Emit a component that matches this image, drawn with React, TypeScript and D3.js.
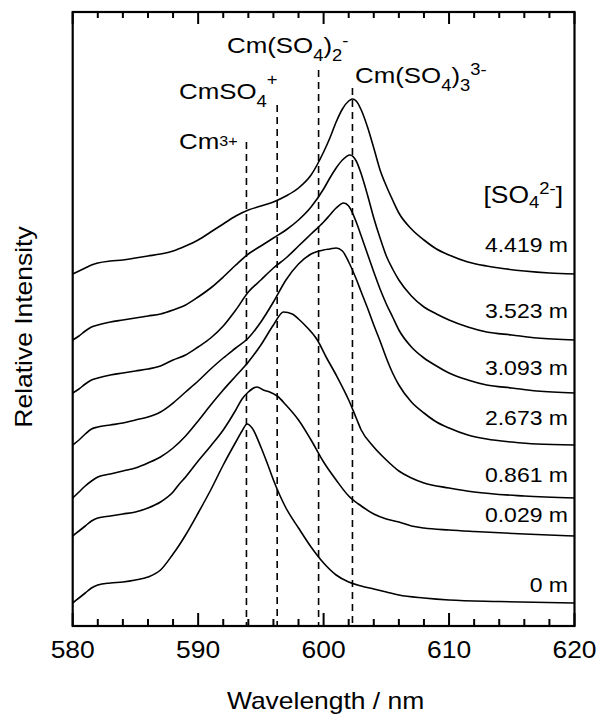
import React from "react";
import * as d3 from "d3";

// ---- data ----
const concentrations = ["4.419 m", "3.523 m", "3.093 m", "2.673 m", "0.861 m", "0.029 m", "0 m"];
// vertical offsets of the stacked spectra (relative intensity units)
const offsets = [352, 286, 233, 181, 128, 90, 23];

const s4419: [number, number][] = [[580,0],[580.5,3],[581,6],[581.5,9],[582,11],[583,13],[584,14],[585,16],[586,18],[587,20],[588,23],[589,28],[590,34],[591,42],[592,50],[593,58],[594,64],[595,68],[596,72],[597,78],[598,86],[599,99],[600,122],[600.5,136],[601,152],[601.5,165],[602,173],[602.3,175],[602.6,173],[603,164],[603.5,147],[604,126],[604.5,104],[605,88],[605.5,74],[606,61],[607,45],[608,34],[609,25],[610,19],[611.5,12],[613,8],[614,6],[616,3],[618,1],[620,0]];
const s3523: [number, number][] = [[580,0],[580.5,4],[581,9],[581.5,13],[582,15],[583,18],[584,20],[585,22],[586,24],[587,26],[588,30],[589,35],[590,43],[591,52],[592,63],[593,75],[594,86],[595,94],[596,102],[597,110],[598,120],[599,133],[600,151],[600.5,162],[601,172],[601.5,180],[602.1,185],[602.6,179],[603,166],[603.5,145],[604,122],[604.5,102],[605,84],[605.5,71],[606,60],[607,44],[608,33],[609,26],[610,20],[611.5,13],[613,8],[615,5],[617,2],[620,0]];
const s3093: [number, number][] = [[580,0],[580.5,4],[581,9],[581.5,13],[582,15],[583,18],[584,20],[585,22],[586,24],[587,27],[588,33],[589,38],[590,46],[591,55],[592,67],[593,83],[594,101],[595,113],[596,125],[597,135],[598,147],[599,159],[600,171],[600.5,178],[601,185],[601.6,190],[602,187],[602.6,171],[603,157],[603.5,139],[604,121],[604.5,104],[605,89],[605.5,76],[606,63],[607,46],[608,35],[609,27],[610,20],[611.5,13],[613,8],[615,5],[617,2],[620,0]];
const s2673: [number, number][] = [[580,0],[580.5,5],[581,11],[581.5,16],[582,18],[583,20],[584,22],[585,25],[586,28],[587,33],[588,42],[589,53],[590,64],[591,76],[592,87],[593,97],[594,107],[595,123],[596,143],[597,165],[598,181],[599,191],[600,195],[600.5,196],[601,197],[601.5,194],[602,183],[602.6,166],[603,153],[603.5,137],[604,120],[604.5,104],[605,87],[605.5,72],[606,60],[607,43],[608,32],[609,23],[610,17],[611.5,10],[613,6],[615,3],[617,1],[620,0]];
const s0861: [number, number][] = [[580,0],[580.5,6],[581,12],[581.5,17],[582,21],[583,24],[584,27],[585,30],[586,35],[587,41],[588,50],[589,62],[590,77],[591,93],[592,108],[593,122],[594,136],[595,153],[596,173],[596.8,186],[597.5,184],[598,179],[598.65,171],[599.5,158],[600.2,141],[601,123],[602,98],[602.6,80],[603,68],[604,51],[605,38],[606,27],[607,20],[608,15],[610,10],[612,6],[616,2],[620,0]];
const s0029: [number, number][] = [[580,0],[580.5,5],[581,10],[581.5,15],[582,18],[583,20],[584,22],[585,24],[586,28],[587,34],[588,44],[588.5,52],[589,59],[590,75],[591,90],[592,106],[593,126],[593.5,137],[594,144],[594.7,149],[595.2,146],[595.7,144],[596.3,140],[597,131],[598,116],[599,96],[600,74],[601,56],[602,40],[603,30],[604,22],[605,17],[606,14],[607,10],[608,8],[610,6],[612,4.5],[616,2],[620,0]];
const s0: [number, number][] = [[580,0],[580.5,5],[581,10],[581.5,15],[582,18],[583,20],[584,21],[585,23],[586,26],[587,33],[588,49],[588.5,58],[589,68],[590,90],[591,113],[592,138],[593,161],[593.5,172],[593.9,179],[594.3,175],[595,156],[595.5,140],[596,123],[596.5,108],[597,95],[598,75],[599,56],[600,40],[601,28],[602,21],[603,17],[604,14],[605,11],[606,8],[608,5],[610,3],[614,1.5],[620,0]];

const spectra = [s4419, s3523, s3093, s2673, s0861, s0029, s0];

// species emission wavelengths (nm): Cm3+, CmSO4+, Cm(SO4)2-, Cm(SO4)3 3-
const speciesWavelengths = [593.85, 596.3, 599.6, 602.3];
const xMajorTicks = [580, 590, 600, 610, 620];

// ---- layout ----
const W = 606, H = 719;
const M = { left: 72.7, right: 574.5, top: 12, bottom: 626 };
const SX = 1.15; // horizontal font stretch
const FONT = "'Liberation Sans', Arial, Helvetica, sans-serif";
const speciesLineTop = [142, 105, 70, 88];
const concLabelY = [252, 318, 375, 425, 482, 522, 592];

function T({ x, y, size, anchor = "start", rotate = 0, children }: any) {
  return (
    <text
      transform={`translate(${x},${y})${rotate ? ` rotate(${rotate})` : ""} scale(${SX},1)`}
      fontSize={size}
      textAnchor={anchor}
      fill="#000"
    >
      {children}
    </text>
  );
}

export default function App() {
  const x = d3.scaleLinear().domain([580, 620]).range([M.left, M.right]);
  const y = d3.scaleLinear().domain([0, 614]).range([M.bottom, M.top]);
  const minor = x.ticks(20).filter((t) => !xMajorTicks.includes(t));

  const paths = spectra.map((s, i) =>
    d3
      .line<[number, number]>()
      .x((d) => x(d[0]))
      .y((d) => y(d[1] + offsets[i]))
      .curve(d3.curveMonotoneX)(s) as string
  );

  return (
    <svg
      width={W}
      height={H}
      style={{ position: "absolute", left: 0, top: 0, background: "#fff" }}
      fontFamily={FONT}
    >
      <rect x={0} y={0} width={W} height={H} fill="#fff" />
      {/* spectra */}
      {paths.map((p, i) => (
        <path key={i} d={p} fill="none" stroke="#000" strokeWidth={1.6} strokeLinejoin="round" />
      ))}
      {/* species dashed lines */}
      {speciesWavelengths.map((w, i) => (
        <line
          key={i}
          x1={x(w)}
          x2={x(w)}
          y1={speciesLineTop[i]}
          y2={M.bottom}
          stroke="#000"
          strokeWidth={1.6}
          strokeDasharray="7,5"
        />
      ))}
      {/* frame */}
      <rect
        x={M.left}
        y={M.top}
        width={M.right - M.left}
        height={M.bottom - M.top}
        fill="none"
        stroke="#000"
        strokeWidth={2.2}
      />
      {/* ticks */}
      {xMajorTicks.map((t) => (
        <g key={"M" + t}>
          <line x1={x(t)} x2={x(t)} y1={M.bottom} y2={M.bottom - 13} stroke="#000" strokeWidth={2} />
          <line x1={x(t)} x2={x(t)} y1={M.top} y2={M.top + 12} stroke="#000" strokeWidth={2} />
          <T x={x(t)} y={658} size={23} anchor="middle">{t}</T>
        </g>
      ))}
      {minor.map((t) => (
        <g key={"m" + t}>
          <line x1={x(t)} x2={x(t)} y1={M.bottom} y2={M.bottom - 7} stroke="#000" strokeWidth={2} />
          <line x1={x(t)} x2={x(t)} y1={M.top} y2={M.top + 6} stroke="#000" strokeWidth={2} />
        </g>
      ))}
      {/* axis titles */}
      <T x={(M.left + M.right) / 2 + 2} y={709} size={23} anchor="middle">Wavelength / nm</T>
      <T x={32} y={327} size={23} anchor="middle" rotate={-90}>Relative Intensity</T>

      {/* species labels */}
      <T x={179} y={149} size={22.5}>
        Cm<tspan fontSize={14} dy={-3}>3+</tspan>
      </T>
      <T x={179} y={99} size={22.5}>
        CmSO<tspan fontSize={16} dy={8}>4</tspan>
        <tspan fontSize={16} dy={-22}>+</tspan>
      </T>
      <T x={227} y={53} size={22.5}>
        Cm(SO<tspan fontSize={16} dy={8}>4</tspan>
        <tspan dy={-8}>)</tspan>
        <tspan fontSize={16} dy={8}>2</tspan>
        <tspan fontSize={16} dy={-15}>-</tspan>
      </T>
      <T x={355} y={83} size={22.5}>
        Cm(SO<tspan fontSize={16} dy={8}>4</tspan>
        <tspan dy={-8}>)</tspan>
        <tspan fontSize={16} dy={8}>3</tspan>
        <tspan fontSize={16} dy={-16}>3-</tspan>
      </T>

      {/* concentration legend */}
      <T x={563} y={203} size={23} anchor="end">
        [SO<tspan fontSize={16} dy={5}>4</tspan>
        <tspan fontSize={16} dy={-14}>2-</tspan>
        <tspan dy={9}>]</tspan>
      </T>
      {concentrations.map((c, i) => (
        <T key={c} x={568} y={concLabelY[i]} size={20} anchor="end">{c}</T>
      ))}
    </svg>
  );
}
